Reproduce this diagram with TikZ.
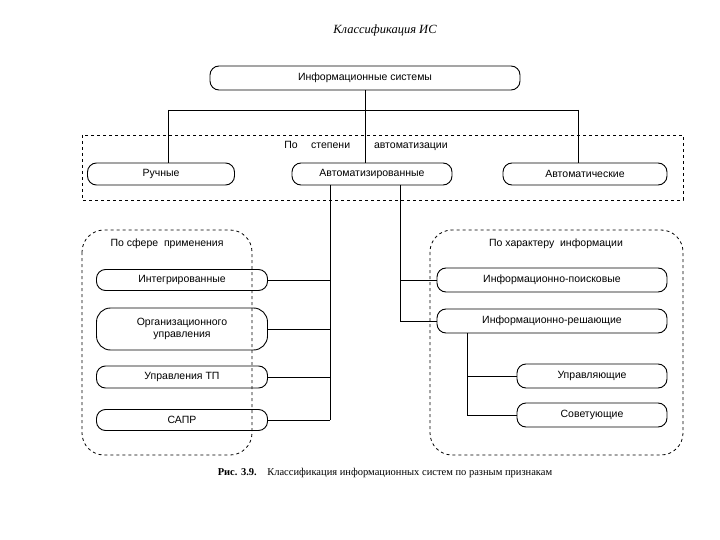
\documentclass[tikz,border=0pt]{standalone}
\usepackage{fontspec}
\setmainfont{Liberation Serif}
\newfontfamily\nodefont{Liberation Sans}
\begin{document}
\begin{tikzpicture}[x=1pt,y=-1pt,
  box/.style={draw,line width=0.9pt,rounded corners=9pt,font=\nodefont\fontsize{10.5}{12}\selectfont,align=center,inner sep=0pt},
  grp/.style={draw,dashed,line width=0.8pt},
  conn/.style={line width=0.9pt},
  lab/.style={font=\nodefont\fontsize{10.5}{12}\selectfont}]
\useasboundingbox (0,0) rectangle (720,540);
\node[font=\itshape\fontsize{12.5}{14}\selectfont] (title) at (385,30) {Классификация ИС};
\node[box,minimum width=310pt,minimum height=24pt] (is) at (365,78) {Информационные системы};
\draw[grp] (82,135) rectangle (683,200);
\node[lab] (deg) at (366,146) {По \quad степени \qquad автоматизации};
\node[box,minimum width=147pt,minimum height=22pt] (man) at (161,174) {Ручные};
\node[box,minimum width=160pt,minimum height=22pt] (aut) at (372,174) {Автоматизированные};
\node[box,minimum width=164pt,minimum height=22pt] (full) at (585,174) {Автоматические};
\coordinate (j) at (365,110);
\draw[conn] (is.south) -- (j);
\draw[conn] (168,110) -- (578,110);
\draw[conn] (168,110) -- (168,163);
\draw[conn] (578,110) -- (578,163);
\draw[conn] (j) -- (365,163);
% groups
\draw[grp,rounded corners=22pt] (82,230) rectangle (252,455);
\draw[grp,rounded corners=22pt] (430,230) rectangle (683,455);
\node[lab] (sph) at (167,244) {По сфере \ применения};
\node[lab] (chr) at (556,244) {По характеру \ информации};
\node[box,minimum width=171pt,minimum height=21pt] (int) at (182,280) {Интегрированные};
\node[box,minimum width=171pt,minimum height=42pt,rounded corners=14pt] (org) at (182,329) {Организационного\\управления};
\node[box,minimum width=171pt,minimum height=22pt] (tp) at (182,377) {Управления ТП};
\node[box,minimum width=171pt,minimum height=21pt] (cad) at (182,420) {САПР};
\node[box,minimum width=230pt,minimum height=24pt] (ips) at (552,280) {Информационно-поисковые};
\node[box,minimum width=230pt,minimum height=24pt] (irs) at (552,321) {Информационно-решающие};
\node[box,minimum width=150pt,minimum height=24pt] (upr) at (592,376) {Управляющие};
\node[box,minimum width=150pt,minimum height=24pt] (sov) at (592,415) {Советующие};
% connectors
\draw[conn] (330,185) -- (330,420);
\draw[conn] (int.east) -- (330,280);
\draw[conn] (org.east) -- (330,329);
\draw[conn] (tp.east) -- (330,377);
\draw[conn] (cad.east) -- (330,420);
\draw[conn] (400,185) -- (400,321) -- (irs.west);
\draw[conn] (400,280) -- (ips.west);
\draw[conn] (467,333) -- (467,415) -- (sov.west);
\draw[conn] (467,376) -- (upr.west);
\node[font=\fontsize{10.5}{12}\selectfont] (cap) at (385,473) {\textbf{Рис. 3.9.}\quad Классификация информационных систем по разным признакам};
\end{tikzpicture}
\end{document}
